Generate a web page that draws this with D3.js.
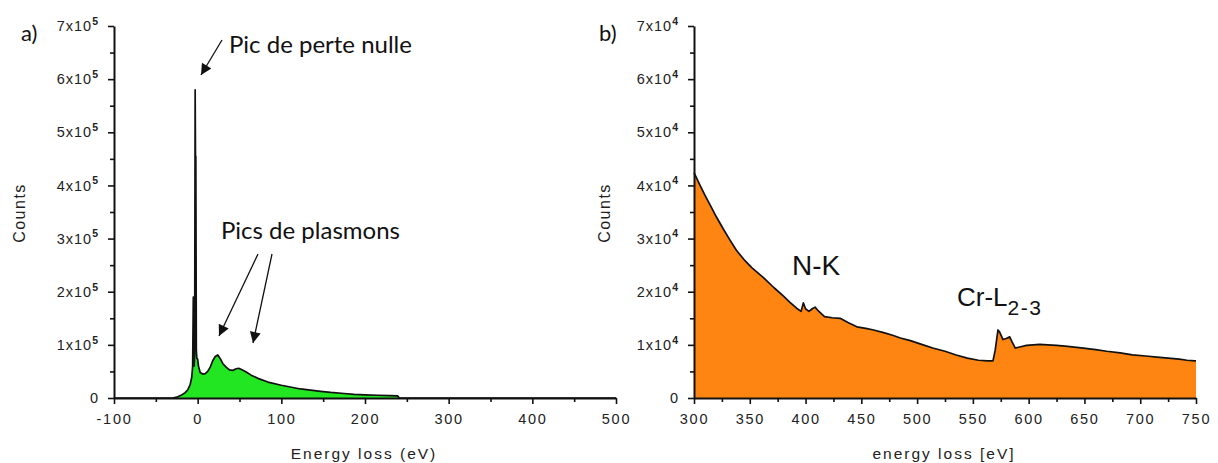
<!DOCTYPE html>
<html><head><meta charset="utf-8">
<script src="https://cdn.jsdelivr.net/npm/d3@7"></script>
<style>body{margin:0;background:#fff}svg{display:block}</style>
</head><body>
<svg id="chart" width="1218" height="463"></svg>
<script>
// ---------- DATA ----------
// Panel a) low-loss spectrum (energy in eV, counts)
const lowLossEnergy = [-100, -40, -30, -25, -20, -15, -12, -9, -7, -6, -5.2, -4.8, -4.2, -3.6, -3, -2.6, -2.2, -1.6, -1, 0, 1, 3, 6, 9, 12, 15, 18, 21, 24, 27, 30, 34, 38, 42, 46, 49, 53, 58, 64, 72, 84, 100, 123, 147, 159, 175, 187, 200, 215, 230, 239, 241, 300, 400, 500];
const lowLossCounts = [0, 0, 0, 1500, 5000, 10000, 15000, 25000, 40000, 60000, 190000, 190000, 60000, 80000, 580000, 455000, 455000, 90000, 75000, 73000, 60000, 48000, 45000, 46000, 50000, 58000, 70000, 78000, 81000, 74000, 65000, 58000, 53000, 52000, 55000, 56000, 53000, 49000, 43000, 37000, 30000, 24000, 17000, 12500, 10500, 8500, 7000, 6000, 5200, 4600, 4000, 0, 0, 0, 0];

// Panel b) core-loss spectrum (energy in eV, counts)
const coreLossEnergy = [300, 305, 310, 315, 320, 326, 332, 338, 345, 352, 362, 372, 380, 386, 392, 396, 398, 400, 403, 406, 408.5, 411, 417, 424, 431, 438, 446, 454, 461, 470, 478, 485, 494, 504, 514, 525, 535, 545, 555, 563, 568, 570, 572.5, 574, 577, 580, 583, 585, 588, 592, 598, 604, 610, 617, 625, 635, 649, 660, 670, 682, 693, 705, 715, 725, 735, 742, 749, 750];
const coreLossCounts = [42400, 40200, 38100, 36100, 34100, 31900, 29800, 27800, 26000, 24500, 22700, 20700, 19200, 18000, 16900, 16300, 17900, 16800, 16300, 16800, 17100, 16500, 15300, 15100, 15000, 14200, 13400, 13100, 12800, 12300, 11800, 11300, 10800, 10100, 9400, 8800, 8100, 7500, 7100, 7000, 7000, 9000, 12800, 12400, 11000, 11200, 11500, 10600, 9400, 9600, 9900, 10000, 10100, 10000, 9900, 9700, 9400, 9100, 8800, 8500, 8100, 7900, 7700, 7500, 7300, 7100, 7000, 7000];

// Tick values / labels
const xTicksA = [-100, 0, 100, 200, 300, 400, 500];
const xTickLabelsA = ["-100", "0", "100", "200", "300", "400", "500"];
const xMinorA = [-50, 50, 150, 250, 350, 450];
const yTicksA = [0, 1e5, 2e5, 3e5, 4e5, 5e5, 6e5, 7e5];
const yTickMantA = ["0", "1x10", "2x10", "3x10", "4x10", "5x10", "6x10", "7x10"];
const yTickExpA = ["", "5", "5", "5", "5", "5", "5", "5"];
const yMinorA = [0.5e5, 1.5e5, 2.5e5, 3.5e5, 4.5e5, 5.5e5, 6.5e5];

const xTicksB = [300, 350, 400, 450, 500, 550, 600, 650, 700, 750];
const xTickLabelsB = ["300", "350", "400", "450", "500", "550", "600", "650", "700", "750"];
const xMinorB = [325, 375, 425, 475, 525, 575, 625, 675, 725];
const yTicksB = [0, 1e4, 2e4, 3e4, 4e4, 5e4, 6e4, 7e4];
const yTickMantB = ["0", "1x10", "2x10", "3x10", "4x10", "5x10", "6x10", "7x10"];
const yTickExpB = ["", "4", "4", "4", "4", "4", "4", "4"];
const yMinorB = [0.5e4, 1.5e4, 2.5e4, 3.5e4, 4.5e4, 5.5e4, 6.5e4];

// ---------- DRAW ----------
const svg = d3.select("#chart");
const TICKFONT = "'Liberation Sans', Arial, sans-serif";

function drawPanel(cfg) {
  const x = d3.scaleLinear().domain(cfg.xDomain).range(cfg.xRange);
  const y = d3.scaleLinear().domain(cfg.yDomain).range(cfg.yRange);
  const g = svg.append("g");
  const pts = cfg.energy.map((e, i) => [e, cfg.counts[i]]);

  g.append("path").datum(pts)
    .attr("d", d3.area().x(d => x(d[0])).y0(y(0)).y1(d => y(d[1])))
    .attr("fill", cfg.fill);
  g.append("path").datum(pts)
    .attr("d", d3.line().x(d => x(d[0])).y(d => y(d[1])))
    .attr("fill", "none").attr("stroke", "#111").attr("stroke-width", 1.7)
    .attr("stroke-linejoin", "round");

  // minor ticks
  g.append("g").attr("transform", `translate(0,${cfg.yRange[0]})`)
    .call(d3.axisBottom(x).tickValues(cfg.xMinor).tickSize(4).tickFormat("").tickSizeOuter(0))
    .call(s => s.select(".domain").remove())
    .selectAll("line").attr("stroke", "#111").attr("stroke-width", 1.6);
  g.append("g").attr("transform", `translate(${cfg.xRange[0]},0)`)
    .call(d3.axisLeft(y).tickValues(cfg.yMinor).tickSize(4).tickFormat("").tickSizeOuter(0))
    .call(s => s.select(".domain").remove())
    .selectAll("line").attr("stroke", "#111").attr("stroke-width", 1.6);

  // major x axis
  const xa = g.append("g").attr("transform", `translate(0,${cfg.yRange[0]})`)
    .call(d3.axisBottom(x).tickValues(cfg.xTicks).tickSize(6).tickPadding(10).tickSizeOuter(0)
      .tickFormat((d, i) => cfg.xLabels[i]));
  xa.select(".domain").attr("stroke", "#111").attr("stroke-width", 2);
  xa.selectAll("line").attr("stroke", "#111").attr("stroke-width", 1.6);
  xa.selectAll("text").attr("font-family", TICKFONT).attr("font-size", 14.5)
    .attr("letter-spacing", "1.7px").attr("fill", "#222");

  // major y axis
  const ya = g.append("g").attr("transform", `translate(${cfg.xRange[0]},0)`)
    .call(d3.axisLeft(y).tickValues(cfg.yTicks).tickSize(6).tickPadding(9).tickSizeOuter(0)
      .tickFormat(""));
  ya.select(".domain").attr("stroke", "#111").attr("stroke-width", 2);
  ya.selectAll("line").attr("stroke", "#111").attr("stroke-width", 1.6);
  ya.selectAll(".tick text").each(function (d, i) {
    const t = d3.select(this).text(null)
      .attr("font-family", TICKFONT).attr("font-size", 14.5).attr("fill", "#222")
      .attr("letter-spacing", "1px");
    t.append("tspan").text(cfg.yMant[i]);
    if (cfg.yExp[i]) {
      t.append("tspan").attr("font-size", 10.5).attr("dy", "-0.6em").attr("font-weight", "bold").text(cfg.yExp[i]);
    }
  });

  // axis titles
  g.append("text").attr("x", cfg.titleX).attr("y", 459)
    .attr("text-anchor", "middle").attr("font-family", TICKFONT).attr("font-size", 15.5)
    .attr("letter-spacing", "2px").attr("fill", "#222").text(cfg.xTitle);
  g.append("text").attr("transform", `translate(${cfg.countsX},213) rotate(-90)`)
    .attr("text-anchor", "middle").attr("font-family", TICKFONT).attr("font-size", 16)
    .attr("letter-spacing", "1.5px").attr("fill", "#222").text("Counts");

  // panel letter
  g.append("text").attr("x", cfg.letterX).attr("y", 41)
    .attr("font-family", "Lato, 'Open Sans', sans-serif").attr("font-size", 22)
    .attr("fill", "#111").text(cfg.letter);
  return { x, y };
}

drawPanel({
  energy: lowLossEnergy, counts: lowLossCounts, fill: "#22e622",
  xDomain: [-100, 500], xRange: [114, 616], yDomain: [0, 7e5], yRange: [398, 26],
  xTicks: xTicksA, xLabels: xTickLabelsA, xMinor: xMinorA,
  yTicks: yTicksA, yMant: yTickMantA, yExp: yTickExpA, yMinor: yMinorA,
  xTitle: "Energy loss (eV)", titleX: 364, countsX: 25, letter: "a)", letterX: 21
});
drawPanel({
  energy: coreLossEnergy, counts: coreLossCounts, fill: "#ff8512",
  xDomain: [300, 750], xRange: [694, 1196], yDomain: [0, 7e4], yRange: [398, 26],
  xTicks: xTicksB, xLabels: xTickLabelsB, xMinor: xMinorB,
  yTicks: yTicksB, yMant: yTickMantB, yExp: yTickExpB, yMinor: yMinorB,
  xTitle: "energy loss [eV]", titleX: 944, countsX: 610, letter: "b)", letterX: 599
});

// ---------- ANNOTATIONS ----------
const defs = svg.append("defs");
defs.append("marker").attr("id", "arr").attr("viewBox", "0 0 10 10")
  .attr("refX", 10).attr("refY", 5).attr("markerWidth", 13).attr("markerHeight", 11)
  .attr("markerUnits", "userSpaceOnUse").attr("orient", "auto")
  .append("path").attr("d", "M0,0 L10,5 L0,10 Z").attr("fill", "#111");

const arrows = [[222, 40, 201, 75], [258, 254, 219, 336], [272, 254, 253, 343]];
svg.selectAll(".arrow").data(arrows).join("line")
  .attr("x1", d => d[0]).attr("y1", d => d[1]).attr("x2", d => d[2]).attr("y2", d => d[3])
  .attr("stroke", "#111").attr("stroke-width", 1.3).attr("marker-end", "url(#arr)");

const ANNFONT = "Lato, 'Open Sans', sans-serif";
svg.append("text").attr("x", 229).attr("y", 53).attr("font-family", ANNFONT)
  .attr("font-size", 24).attr("fill", "#111").text("Pic de perte nulle");
svg.append("text").attr("x", 221).attr("y", 239).attr("font-family", ANNFONT)
  .attr("font-size", 24).attr("fill", "#111").text("Pics de plasmons");

svg.append("text").attr("x", 792).attr("y", 275).attr("font-family", TICKFONT)
  .attr("font-size", 28).attr("fill", "#111").text("N-K");
const cr = svg.append("text").attr("x", 957).attr("y", 306).attr("font-family", TICKFONT)
  .attr("font-size", 26).attr("fill", "#111");
cr.append("tspan").text("Cr-L");
cr.append("tspan").attr("dy", 9).attr("font-size", 21).attr("letter-spacing", "1.5px").text("2-3");
</script>
</body></html>
